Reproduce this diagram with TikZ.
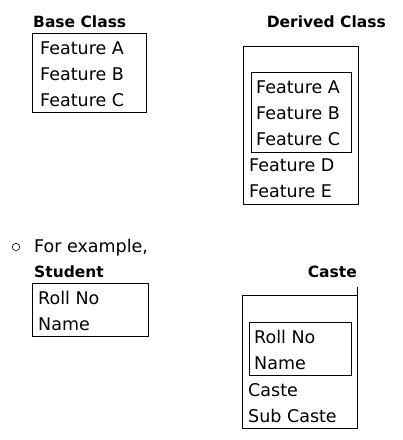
\documentclass[tikz,border=0pt]{standalone}
\usepackage{fontspec}
\setmainfont{DejaVu Sans}
\usepackage{tikz}

\begin{document}
\begin{tikzpicture}[x=1pt,y=-1pt]
\tikzset{
box/.style={ draw=black , line width=0.8pt },
item/.style={ anchor=base west , inner sep=0pt ,
font=\fontsize{17.5}{20}\selectfont },
title/.style={ anchor=base west , inner sep=0pt ,
font=\fontsize{15.5}{20}\selectfont\bfseries }
}
\useasboundingbox (0,0) rectangle (403,440);

% base class
\node[title] (basetitle) at (33,27) {Base Class};
\draw[box] (32,33) rectangle (146,112);
\node[item] (baseA) at (40,54) {Feature A};
\node[item] (baseB) at (40,80) {Feature B};
\node[item] (baseC) at (40,106) {Feature C};

% derived class
\node[title,anchor=base east] (dertitle) at (386,27) {Derived Class};
\draw[box] (243,46) rectangle (358,204);
\draw[box] (251,72) rectangle (351,152);
\node[item] (derA) at (256,93) {Feature A};
\node[item] (derB) at (256,119) {Feature B};
\node[item] (derC) at (256,145) {Feature C};
\node[item] (derD) at (249,171) {Feature D};
\node[item] (derE) at (249,197) {Feature E};

% example
\draw[line width=0.6pt] (16,247) circle (3.7);
\node[item] (example) at (34,252) {For example,};

\node[title] (studtitle) at (34,277) {Student};
\draw[box] (32,283) rectangle (148,336);
\node[item] (studroll) at (38,304) {Roll No};
\node[item] (studname) at (38,330) {Name};

\node[title,anchor=base east] (castetitle) at (357,277) {Caste};
\draw[box] (242,295) rectangle (357,428);
\draw[box] (357,295) -- (357,287);
\draw[box] (249,322) rectangle (351,375);
\node[item] (casteroll) at (254,343) {Roll No};
\node[item] (castename) at (254,369) {Name};
\node[item] (castecaste) at (248,396) {Caste};
\node[item] (castesub) at (248,422) {Sub Caste};

\end{tikzpicture}
\end{document}
